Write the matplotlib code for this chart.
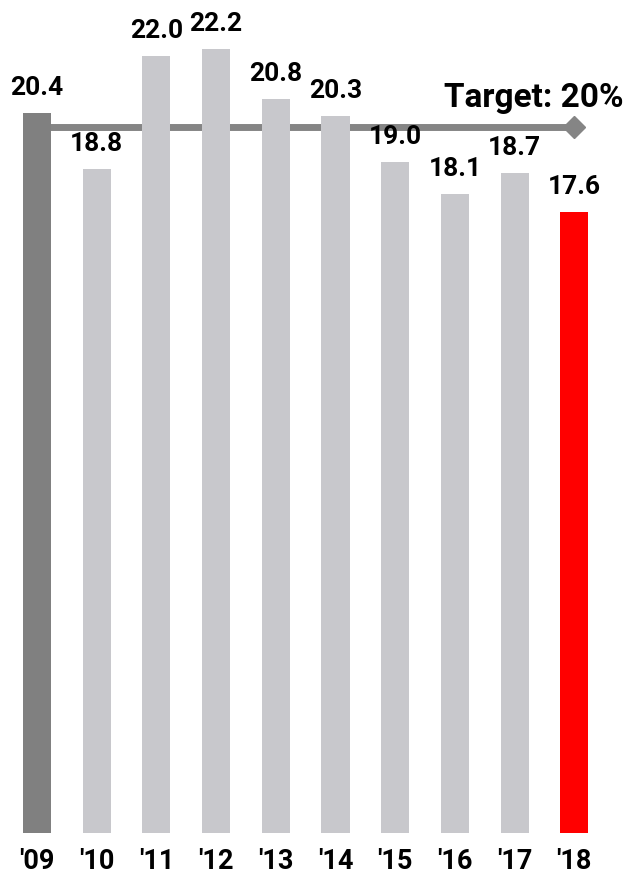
import matplotlib.pyplot as plt

years = ["'09", "'10", "'11", "'12", "'13", "'14", "'15", "'16", "'17", "'18"]
values = [20.4, 18.8, 22.0, 22.2, 20.8, 20.3, 19.0, 18.1, 18.7, 17.6]
target = 20
colors = ["#808080"] + ["#c8c8cc"] * 8 + ["#ff0000"]

plt.rcParams['font.family'] = ['Roboto', 'DejaVu Sans']

fig = plt.figure(figsize=(6.28, 8.77), dpi=100)
ax = fig.add_axes([0, 44 / 877, 1, 833 / 877])
x = range(len(years))

# target line behind the bars
ax.plot([0, len(years) - 1], [target, target], color="#858585", lw=5, zorder=1,
        solid_capstyle="butt")
ax.plot([len(years) - 1], [target], marker="D", ms=11, color="#858585", zorder=1)
ax.bar(x, values, width=0.47, color=colors, zorder=2)

for i, v in enumerate(values):
    ax.text(i, v + 0.51, f"{v:.1f}", ha="center", va="baseline",
            fontsize=19, fontweight="bold")
for i, y in enumerate(years):
    ax.text(i, -0.42, y, ha="center", va="top", fontsize=19.5, fontweight="bold",
            clip_on=False)

ax.text(9.82, 20.57, f"Target: {target}%", ha="right", va="baseline",
        fontsize=24, fontweight="bold")

ax.set_xlim(-0.62, 9.90)
ax.set_ylim(0, 833 / 35.3)
ax.axis("off")

plt.savefig("out.png", dpi=100)
